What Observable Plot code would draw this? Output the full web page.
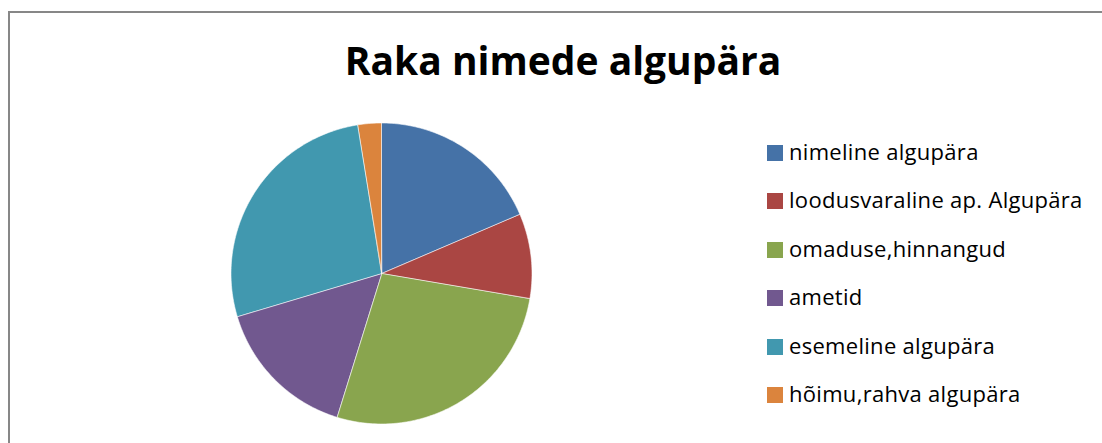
<!DOCTYPE html>
<html><head><meta charset="utf-8">
<script src="https://cdn.jsdelivr.net/npm/d3@7"></script>
<script src="https://cdn.jsdelivr.net/npm/@observablehq/plot@0.6"></script>
<style>
html,body{margin:0;padding:0;background:#fff;overflow:hidden;width:1102px;height:443px;}
#wrap{position:relative;width:1102px;height:443px;overflow:hidden;font-family:"Open Sans",sans-serif;color:#000;}
#ftop{position:absolute;left:8px;top:11px;width:1094px;height:2px;background:#878787;}
#fleft{position:absolute;left:8px;top:11px;width:2px;height:432px;background:#878787;}
#title{position:absolute;left:0;width:1126px;top:35px;text-align:center;font-weight:bold;font-size:39px;line-height:50px;}
#pie{position:absolute;left:230px;top:122px;}
.item{position:absolute;left:767px;height:16px;white-space:nowrap;}
.sw{position:absolute;left:0;top:0;width:16px;height:16px;}
.lt{position:absolute;left:22px;top:-9px;font-size:22px;line-height:30px;letter-spacing:0.3px;}
</style></head>
<body><div id="wrap"><div id="ftop"></div><div id="fleft"></div><div id="title">Raka nimede algupära</div><div id="pie"></div><div id="legend"></div></div>
<script>
const categories = ["nimeline algupära", "loodusvaraline ap. Algupära", "omaduse,hinnangud", "ametid", "esemeline algupära", "hõimu,rahva algupära"];
const values = [18.6, 9.1, 27.1, 15.6, 27.1, 2.5];
const colors = ["#4572A7", "#AA4643", "#89A54E", "#71588F", "#4198AF", "#DB843D"];

const total = d3.sum(values);
const rows = [];
let acc = 0;
categories.forEach((c, i) => {
  const a0 = acc / total * 2 * Math.PI;
  acc += values[i];
  const a1 = acc / total * 2 * Math.PI;
  const n = Math.max(2, Math.ceil((a1 - a0) / (Math.PI / 180)));
  for (let k = 0; k <= n; k++) {
    const a = a0 + (a1 - a0) * k / n;
    rows.push({cat: c, x: Math.sin(a), y: Math.cos(a), cx: 0, cy: 0});
  }
});

const chart = Plot.plot({
  width: 303, height: 303, margin: 1,
  x: {domain: [-1, 1], axis: null},
  y: {domain: [-1, 1], axis: null},
  color: {domain: categories, range: colors},
  marks: [
    Plot.area(rows, {x1: "x", y1: "y", x2: "cx", y2: "cy", z: "cat", fill: "cat", stroke: "white", strokeWidth: 0.7, strokeOpacity: 0.8})
  ]
});
document.getElementById("pie").appendChild(chart);

const legend = document.getElementById("legend");
categories.forEach((c, i) => {
  const d = document.createElement("div");
  d.className = "item";
  d.style.top = (145 + i * 48.4) + "px";
  const s = document.createElement("span");
  s.className = "sw"; s.style.background = colors[i];
  const t = document.createElement("span");
  t.className = "lt";
  t.textContent = c;
  d.appendChild(s); d.appendChild(t);
  legend.appendChild(d);
});
</script></body></html>
